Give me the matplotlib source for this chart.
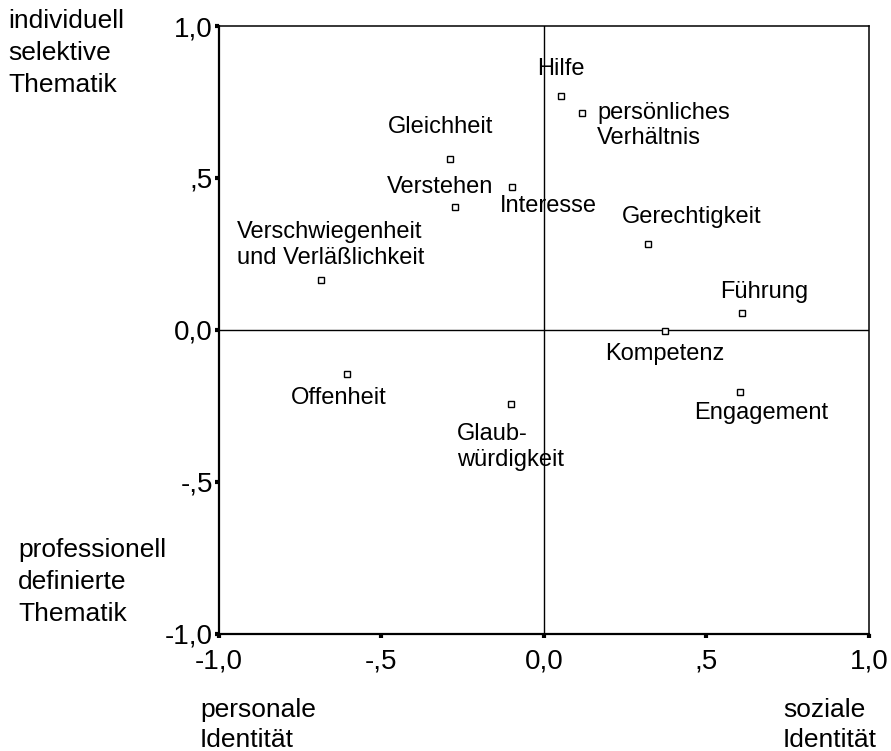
import matplotlib
matplotlib.use("Agg")
import matplotlib.pyplot as plt

plt.rcParams['font.family'] = ['Liberation Sans', 'DejaVu Sans']

labels = ["Hilfe", "persönliches\nVerhältnis", "Gleichheit", "Verstehen", "Interesse",
          "Gerechtigkeit", "Verschwiegenheit\nund Verläßlichkeit", "Führung", "Kompetenz",
          "Offenheit", "Glaub-\nwürdigkeit", "Engagement"]
x_vals = [0.052, 0.118, -0.288, -0.273, -0.098, 0.321, -0.684, 0.608, 0.373, -0.606, -0.101, 0.603]
y_vals = [0.768, 0.715, 0.562, 0.404, 0.471, 0.282, 0.163, 0.054, -0.004, -0.146, -0.245, -0.206]
tick_vals = [-1.0, -0.5, 0.0, 0.5, 1.0]
tick_labels = ["-1,0", "-,5", "0,0", ",5", "1,0"]

# label placement: (dx px, dy px, ha, va)
label_pos = [
    (0, 27, 'center', 'center'),
    (15, -13, 'left', 'center'),
    (-10, 32, 'center', 'center'),
    (-15, 20, 'center', 'center'),
    (-12, -19, 'left', 'center'),
    (44, 27, 'center', 'center'),
    (-84, 35, 'left', 'center'),
    (23, 21, 'center', 'center'),
    (0, -23, 'center', 'center'),
    (-8, -24, 'center', 'center'),
    (-54, -43, 'left', 'center'),
    (21, -21, 'center', 'center'),
]

FS = 17
FS_TICK = 20
FS_CORNER = 19
fig = plt.figure(figsize=(8.91, 7.51), dpi=100)
ax = fig.add_axes([218.5/891, 1-633.5/751, (869-218.5)/891, (633.5-26)/751])
ax.set_xlim(-1, 1)
ax.set_ylim(-1, 1)

ax.axhline(0, color='black', lw=1.0, zorder=1)
ax.axvline(0, color='black', lw=1.0, zorder=1)
ax.plot(x_vals, y_vals, linestyle='none', marker='s', markersize=5,
        markerfacecolor='white', markeredgecolor='black', markeredgewidth=1.0, zorder=3)

for lab, x, y, (dx, dy, ha, va) in zip(labels, x_vals, y_vals, label_pos):
    ax.annotate(lab, (x, y), xytext=(dx, dy), textcoords='offset pixels',
                ha=ha, va=va, fontsize=FS, linespacing=1.22, zorder=4)

ax.set_xticks(tick_vals)
ax.set_xticklabels(tick_labels, fontsize=FS_TICK)
ax.set_yticks(tick_vals)
ax.set_yticklabels(tick_labels, fontsize=FS_TICK)
ax.tick_params(axis='both', direction='out', length=3, width=3, color='black')
ax.tick_params(axis='x', pad=8)
ax.tick_params(axis='y', pad=1)
for side in ['left', 'bottom']:
    ax.spines[side].set_linewidth(1.6)
for side in ['right', 'top']:
    ax.spines[side].set_linewidth(1.1)

fig.text(8/891, 1-9/751, "individuell\nselektive\nThematik", ha='left', va='top',
         fontsize=FS_CORNER, linespacing=1.42)
fig.text(18/891, 1-538/751, "professionell\ndefinierte\nThematik", ha='left', va='top',
         fontsize=FS_CORNER, linespacing=1.42)
fig.text(200/891, 1-698/751, "personale\nIdentität", ha='left', va='top',
         fontsize=FS_CORNER, linespacing=1.32)
fig.text(783/891, 1-698/751, "soziale\nIdentität", ha='left', va='top',
         fontsize=FS_CORNER, linespacing=1.32)

fig.savefig("out.png", dpi=100)
